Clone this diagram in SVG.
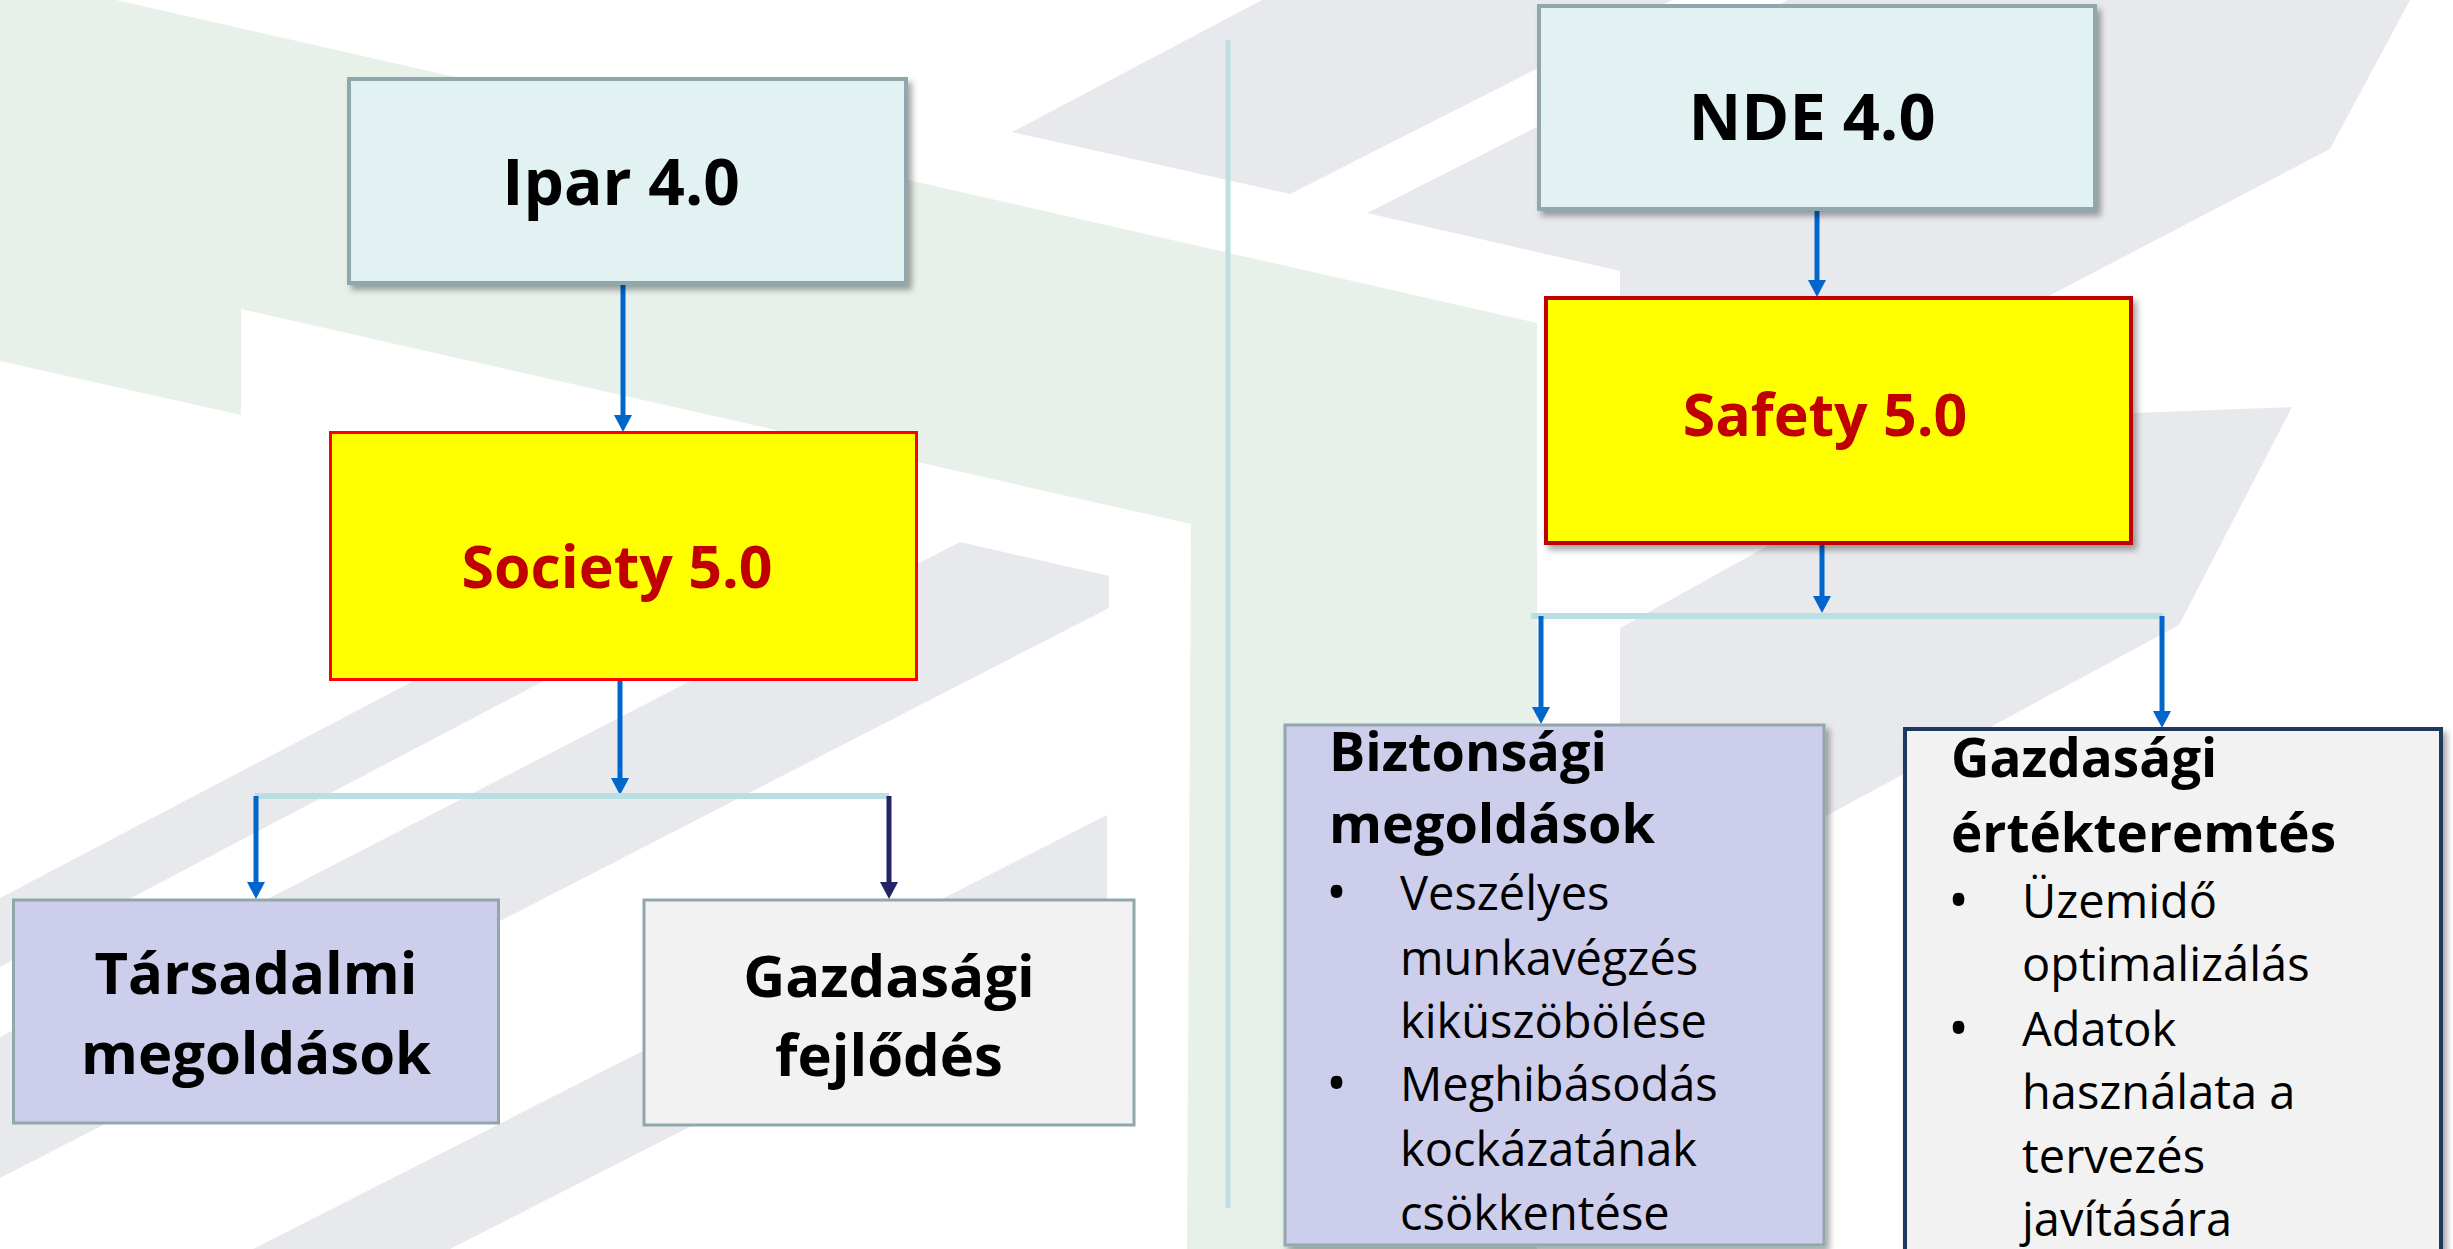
<svg xmlns="http://www.w3.org/2000/svg" width="2453" height="1249" viewBox="0 0 2453 1249">
  <defs>
    <style>
      .green { fill: #E7F1EA; }
      .gray { fill: #E8E9ED; }
      .box-cyan { fill: #E2F2F2; stroke: #8FA8AC; stroke-width: 4; }
      .box-lav { fill: #CDCDEC; stroke: #90A8AC; stroke-width: 3; }
      .box-lgray { fill: #F2F2F2; stroke: #90A8AC; stroke-width: 3; }
      .t { font-family: "Open Sans", "Noto Sans", "Liberation Sans", sans-serif; fill: #000; }
      .b { font-weight: 700; }
      .red { fill: #C00000; }
      .mid { text-anchor: middle; }
      .conn { stroke: #0066CC; stroke-width: 5; fill: none; }
      .navy { stroke: #232366; }
      .bar { stroke: #B9DFE3; stroke-width: 6; fill: none; }
      .body { font-size: 47px; }
      .bul { font-size: 56px; }
    </style>
    <filter id="sh" x="-5%" y="-5%" width="115%" height="115%">
      <feDropShadow dx="4" dy="5" stdDeviation="3" flood-color="#000" flood-opacity="0.35"/>
    </filter>
    <marker id="ah" markerUnits="userSpaceOnUse" markerWidth="18" markerHeight="18" viewBox="0 0 18 18" refX="0" refY="9" orient="auto">
      <path d="M0,0 L17,9 L0,18 z" fill="#0066CC"/>
    </marker>
    <marker id="ahn" markerUnits="userSpaceOnUse" markerWidth="18" markerHeight="18" viewBox="0 0 18 18" refX="0" refY="9" orient="auto">
      <path d="M0,0 L17,9 L0,18 z" fill="#232366"/>
    </marker>
  </defs>

  <g id="background">
    <rect x="0" y="0" width="2453" height="1249" fill="#FFFFFF"/>
    <polygon class="green" points="0,0 116,0 1537,323 1537,1249 1187,1249 1191,524 241,309 241,415 0,361"/>
    <polygon class="gray" points="1012,132 1262,0 1672,0 1290,194"/>
    <polygon class="gray" points="1788,0 2410,0 2330,149 1620,520 1620,271 1367,213"/>
    <polygon class="gray" points="1620,628 1997,418 2292,407 2179,625 1828,815 1620,928"/>
    <polygon class="gray" points="0,898 560,604 690,604 0,967"/>
    <polygon class="gray" points="960,542 1109,576 1109,608 0,1178 0,1037"/>
    <polygon class="gray" points="1107,815 1107,914 450,1249 253,1249"/>
    <line x1="1228" y1="40" x2="1228" y2="1208" stroke="#BDE0E3" stroke-width="5"/>
  </g>

  <g id="connectors">
    <line class="conn" x1="623" y1="285" x2="623" y2="415" marker-end="url(#ah)"/>
    <line class="conn" x1="620" y1="680" x2="620" y2="778" marker-end="url(#ah)"/>
    <line class="bar" x1="255" y1="796" x2="889" y2="796"/>
    <line class="conn" x1="256" y1="796" x2="256" y2="882" marker-end="url(#ah)"/>
    <line class="conn navy" x1="889" y1="796" x2="889" y2="882" marker-end="url(#ahn)"/>
    <line class="conn" x1="1817" y1="210" x2="1817" y2="280" marker-end="url(#ah)"/>
    <line class="conn" x1="1822" y1="545" x2="1822" y2="596" marker-end="url(#ah)"/>
    <line class="bar" x1="1531" y1="616" x2="2163" y2="616"/>
    <line class="conn" x1="1541" y1="616" x2="1541" y2="707" marker-end="url(#ah)"/>
    <line class="conn" x1="2162" y1="616" x2="2162" y2="711" marker-end="url(#ah)"/>
  </g>

  <g id="node-ipar">
    <rect class="box-cyan" x="349" y="79" width="557" height="204" filter="url(#sh)"/>
    <text class="t b mid" x="621" y="205" font-size="64">Ipar 4.0</text>
  </g>

  <g id="node-society">
    <rect x="330.5" y="432.5" width="586" height="247" fill="#FFFF00" stroke="#FF0000" stroke-width="3"/>
    <text class="t b mid red" x="617" y="588" font-size="59">Society 5.0</text>
  </g>

  <g id="node-tarsadalmi">
    <rect class="box-lav" x="13.5" y="900" width="485" height="223"/>
    <text class="t b mid" x="256" y="994" font-size="58">Társadalmi</text>
    <text class="t b mid" x="256" y="1074" font-size="58">megoldások</text>
  </g>

  <g id="node-gazdasagi-fejlodes">
    <rect class="box-lgray" x="644" y="900" width="490" height="225"/>
    <text class="t b mid" x="889" y="997" font-size="58">Gazdasági</text>
    <text class="t b mid" x="889" y="1076" font-size="58">fejlődés</text>
  </g>

  <g id="node-nde">
    <rect class="box-cyan" x="1539" y="6" width="556" height="203" filter="url(#sh)"/>
    <text class="t b mid" x="1812" y="140" font-size="65">NDE 4.0</text>
  </g>

  <g id="node-safety">
    <rect x="1546" y="298" width="585" height="245" fill="#FFFF00" stroke="#C00000" stroke-width="4" filter="url(#sh)"/>
    <text class="t b mid red" x="1825" y="436" font-size="59">Safety 5.0</text>
  </g>

  <g id="node-biztonsagi">
    <rect class="box-lav" x="1285" y="725" width="539" height="520" filter="url(#sh)"/>
    <text class="t b" x="1329" y="771" font-size="54">Biztonsági</text>
    <text class="t b" x="1329" y="843" font-size="54">megoldások</text>
    <text class="t bul" x="1326" y="912">•</text>
    <text class="t body" x="1400" y="910">Veszélyes</text>
    <text class="t body" x="1400" y="975">munkavégzés</text>
    <text class="t body" x="1400" y="1038">kiküszöbölése</text>
    <text class="t bul" x="1326" y="1103">•</text>
    <text class="t body" x="1400" y="1101">Meghibásodás</text>
    <text class="t body" x="1400" y="1166">kockázatának</text>
    <text class="t body" x="1400" y="1230">csökkentése</text>
  </g>

  <g id="node-ertekteremtes">
    <rect x="1905" y="729" width="536" height="540" fill="#F2F2F2" stroke="#1F3864" stroke-width="4" filter="url(#sh)"/>
    <text class="t b" x="1951" y="777" font-size="53">Gazdasági</text>
    <text class="t b" x="1951" y="852" font-size="53">értékteremtés</text>
    <text class="t bul" x="1948" y="920">•</text>
    <text class="t body" x="2022" y="918">Üzemidő</text>
    <text class="t body" x="2022" y="981">optimalizálás</text>
    <text class="t bul" x="1948" y="1048">•</text>
    <text class="t body" x="2022" y="1046">Adatok</text>
    <text class="t body" x="2022" y="1109">használata a</text>
    <text class="t body" x="2022" y="1173">tervezés</text>
    <text class="t body" x="2022" y="1236">javítására</text>
  </g>
</svg>
